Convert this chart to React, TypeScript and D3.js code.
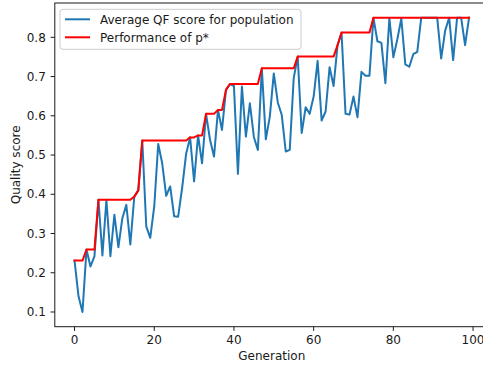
import React from "react";
import * as d3 from "d3";

// Average QF score of the population, one value per generation (0..99)
const avgScore: number[] = [
  0.231, 0.14, 0.1, 0.259, 0.216, 0.242, 0.386, 0.244, 0.386, 0.242,
  0.348, 0.265, 0.339, 0.373, 0.272, 0.394, 0.41, 0.537, 0.318, 0.289,
  0.369, 0.528, 0.479, 0.396, 0.42, 0.344, 0.343, 0.416, 0.503, 0.545,
  0.433, 0.55, 0.479, 0.605, 0.539, 0.496, 0.615, 0.564, 0.666, 0.681,
  0.676, 0.452, 0.675, 0.547, 0.632, 0.546, 0.513, 0.721, 0.54, 0.598,
  0.708, 0.634, 0.602, 0.509, 0.513, 0.696, 0.751, 0.556, 0.622, 0.605,
  0.649, 0.74, 0.588, 0.611, 0.724, 0.676, 0.78, 0.812, 0.605, 0.603,
  0.649, 0.596, 0.712, 0.702, 0.702, 0.85, 0.79, 0.786, 0.683, 0.849,
  0.749, 0.795, 0.848, 0.731, 0.725, 0.757, 0.763, 0.85, 0.85, 0.85,
  0.85, 0.85, 0.746, 0.817, 0.85, 0.742, 0.85, 0.85, 0.78, 0.85,
];

// Performance of the best individual p* per generation
const bestScore: number[] = [
  0.231, 0.231, 0.231, 0.259, 0.259, 0.259, 0.386, 0.386, 0.386, 0.386,
  0.386, 0.386, 0.386, 0.386, 0.386, 0.394, 0.41, 0.537, 0.537, 0.537,
  0.537, 0.537, 0.537, 0.537, 0.537, 0.537, 0.537, 0.537, 0.537, 0.545,
  0.545, 0.55, 0.55, 0.605, 0.605, 0.605, 0.615, 0.615, 0.666, 0.681,
  0.681, 0.681, 0.681, 0.681, 0.681, 0.681, 0.681, 0.721, 0.721, 0.721,
  0.721, 0.721, 0.721, 0.721, 0.721, 0.721, 0.751, 0.751, 0.751, 0.751,
  0.751, 0.751, 0.751, 0.751, 0.751, 0.751, 0.78, 0.812, 0.812, 0.812,
  0.812, 0.812, 0.812, 0.812, 0.812, 0.85, 0.85, 0.85, 0.85, 0.85,
  0.85, 0.85, 0.85, 0.85, 0.85, 0.85, 0.85, 0.85, 0.85, 0.85,
  0.85, 0.85, 0.85, 0.85, 0.85, 0.85, 0.85, 0.85, 0.85, 0.85,
];

const xTicks: number[] = [0, 20, 40, 60, 80, 100];
const yTicks: number[] = [0.1, 0.2, 0.3, 0.4, 0.5, 0.6, 0.7, 0.8];
const seriesNames: string[] = ["Average QF score for population", "Performance of p*"];

const W = 483;
const H = 366;
const plot = { left: 54.8, right: 488.8, top: 3, bottom: 326.7 };
const FONT = "'DejaVu Sans', sans-serif";
const FS = 12;
const INK = "#1a1a1a";

export default function App() {
  const gens = avgScore.map((_, i) => i);
  const x = d3.scaleLinear().domain([-4.95, 103.95]).range([plot.left, plot.right]);
  const y = d3.scaleLinear().domain([0.0625, 0.8875]).range([plot.bottom, plot.top]);

  const line = d3
    .line<number>()
    .x((_, i) => x(gens[i]))
    .y((d) => y(d));

  const colors = ["#1f77b4", "#ff0000"];

  return (
    <svg
      width={W}
      height={H}
      style={{ position: "absolute", left: 0, top: 0, background: "#fff" }}
      fontFamily={FONT}
    >
      <defs>
        <clipPath id="plotArea">
          <rect x={plot.left} y={plot.top} width={plot.right - plot.left} height={plot.bottom - plot.top} />
        </clipPath>
      </defs>
      <rect x={0} y={0} width={W} height={H} fill="#fff" />

      <g clipPath="url(#plotArea)">
        <path d={line(avgScore) ?? ""} fill="none" stroke={colors[0]} strokeWidth={2} strokeLinejoin="round" strokeLinecap="square" />
        <path d={line(bestScore) ?? ""} fill="none" stroke={colors[1]} strokeWidth={2} strokeLinejoin="round" strokeLinecap="square" />
      </g>

      {/* spines */}
      <rect
        x={plot.left}
        y={plot.top}
        width={plot.right - plot.left}
        height={plot.bottom - plot.top}
        fill="none"
        stroke={INK}
        strokeWidth={1}
      />

      {/* x axis */}
      {xTicks.map((t) => (
        <g key={"x" + t} transform={`translate(${x(t)},${plot.bottom})`}>
          <line y1={0} y2={4.2} stroke={INK} strokeWidth={1} />
          <text y={17.5} textAnchor="middle" fontSize={FS} fill={INK}>
            {t}
          </text>
        </g>
      ))}
      <text x={(plot.left + plot.right) / 2} y={359.5} textAnchor="middle" fontSize={FS} fill={INK}>
        Generation
      </text>

      {/* y axis */}
      {yTicks.map((t) => (
        <g key={"y" + t} transform={`translate(${plot.left},${y(t)})`}>
          <line x1={0} x2={-4.2} stroke={INK} strokeWidth={1} />
          <text x={-9} dy="0.35em" textAnchor="end" fontSize={FS} fill={INK}>
            {t.toFixed(1)}
          </text>
        </g>
      ))}
      <text
        transform={`translate(20,${(plot.top + plot.bottom) / 2}) rotate(-90)`}
        textAnchor="middle"
        fontSize={FS}
        fill={INK}
      >
        Quality score
      </text>

      {/* legend */}
      <g>
        <rect x={60} y={9.3} width={241} height={40} rx={3} fill="#fff" fillOpacity={0.8} stroke="#cccccc" strokeWidth={1} />
        {seriesNames.map((name, i) => (
          <g key={name} transform={`translate(65,${19.3 + i * 18})`}>
            <line x1={0} x2={25} stroke={colors[i]} strokeWidth={2} />
            <text x={35} dy="0.35em" fontSize={FS} fill={INK}>
              {name}
            </text>
          </g>
        ))}
      </g>
    </svg>
  );
}
